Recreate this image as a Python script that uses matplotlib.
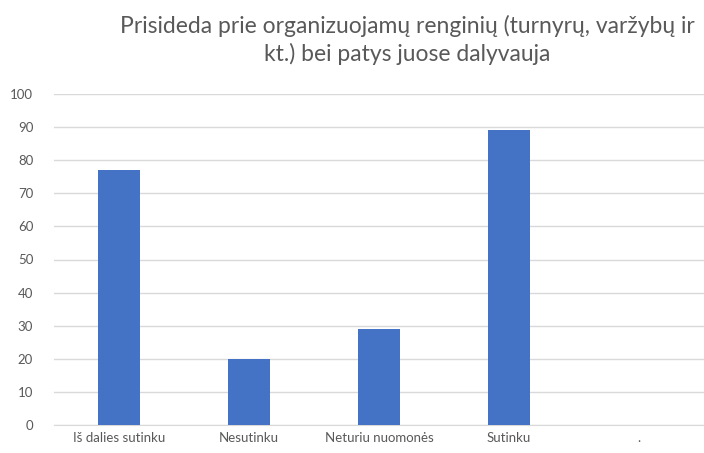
import matplotlib.pyplot as plt
import numpy as np

# categories and values
categories = ['Iš dalies sutinku', 'Nesutinku', 'Neturiu nuomonės', 'Sutinku', '.']
values = [77, 20, 29, 89, 0]
y_ticks = [0, 10, 20, 30, 40, 50, 60, 70, 80, 90, 100]

plt.rcParams['font.family'] = ['Lato', 'DejaVu Sans']
text_gray = '#595959'
grid_gray = '#d9d9d9'

fig = plt.figure(figsize=(7.04, 4.53), dpi=100)
ax = fig.add_axes([54 / 704, 28 / 453, 650 / 704, 331 / 453])

x = np.arange(len(categories))
ax.bar(x, values, width=0.32, color='#4472C4', zorder=3)

ax.set_xlim(-0.5, len(categories) - 0.5)
ax.set_ylim(0, 100)
ax.set_yticks(y_ticks)
ax.set_xticks(x)
ax.set_xticklabels(categories)
ax.tick_params(axis='both', length=0, colors=text_gray, labelsize=9.5)
ax.tick_params(axis='y', pad=15)
ax.tick_params(axis='x', pad=5)

ax.grid(axis='y', color=grid_gray, linewidth=1, zorder=0)
for side in ['top', 'right', 'left']:
    ax.spines[side].set_visible(False)
ax.spines['bottom'].set_color(grid_gray)

fig.text(407 / 704, 1 - 40 / 453, 'Prisideda prie organizuojamų renginių (turnyrų, varžybų ir\nkt.) bei patys juose dalyvauja',
         ha='center', va='center', fontsize=16.5, color=text_gray, linespacing=1.3)

fig.savefig('out.png', dpi=100)
